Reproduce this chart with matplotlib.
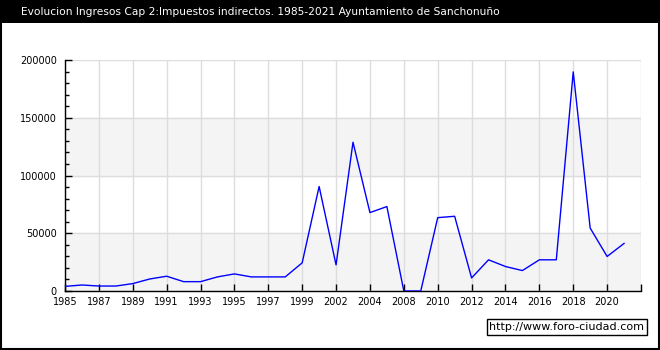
import matplotlib
matplotlib.use("Agg")
import matplotlib.pyplot as plt
from matplotlib.patches import Rectangle
import numpy as np

# years that have data (some years missing in source)
years = list(range(1985, 2000)) + [2001, 2002, 2003, 2004, 2006] + list(range(2008, 2022))
ingresos = [4000, 5200, 4300, 4300, 6400, 10400, 12800, 8100, 8100, 12200,
            14800, 12200, 12200, 12200, 24400, 90500, 22600, 128800, 67900, 73100,
            0, 0, 63500, 64700, 11300, 27000, 21200, 17700, 27000, 27000,
            189700, 54500, 29900, 41200]

title = "Evolucion Ingresos Cap 2:Impuestos indirectos. 1985-2021 Ayuntamiento de Sanchonuño"

fig = plt.figure(figsize=(6.6, 3.5), dpi=100)
fig.patch.set_facecolor("white")

# black title bar + frame
fig.patches.append(Rectangle((0, 327 / 350), 1, 23 / 350, transform=fig.transFigure,
                             facecolor="black", edgecolor="none", zorder=0))
fig.patches.append(Rectangle((0.001, 0.002), 0.997, 0.996, transform=fig.transFigure,
                             facecolor="none", edgecolor="black", lw=1.5, zorder=5))
fig.text(260 / 660, 338 / 350, title, color="white", ha="center", va="center", fontsize=7.7)

ax = fig.add_axes([65 / 660, 59 / 350, 576 / 660, 231 / 350])
x = np.arange(len(years))

# alternating bands
ax.axhspan(0, 50000, color="#f4f4f4", zorder=0)
ax.axhspan(100000, 150000, color="#f4f4f4", zorder=0)

ax.plot(x, ingresos, color="blue", lw=1, zorder=3)

ax.set_xlim(0, len(years))
ax.set_ylim(0, 200000)

ticks = list(range(0, len(years) + 1, 2))
labels = [str(years[i]) if i < len(years) else "" for i in ticks]
ax.set_xticks(ticks)
ax.set_xticklabels(labels)
ax.set_yticks([0, 50000, 100000, 150000, 200000])
ax.set_yticklabels(["0", "50000", "100000", "150000", "200000"])
ax.set_yticks(np.arange(0, 200001, 10000), minor=True)

ax.grid(True, color="#dddddd", lw=1, zorder=1)
ax.set_axisbelow(True)

ax.tick_params(axis="both", which="major", direction="in", length=5, width=1,
               labelsize=7, colors="black", pad=6)
ax.tick_params(axis="y", which="minor", direction="in", length=3, width=1)
ax.tick_params(axis="x", pad=4)

for s in ["top", "right"]:
    ax.spines[s].set_visible(False)
for s in ["left", "bottom"]:
    ax.spines[s].set_linewidth(1)

fig.text(567 / 660, 23 / 350, "http://www.foro-ciudad.com", ha="center", va="center",
         fontsize=8,
         bbox=dict(boxstyle="square,pad=0.25", facecolor="white", edgecolor="black", lw=1))

fig.savefig("out.png", dpi=100)
